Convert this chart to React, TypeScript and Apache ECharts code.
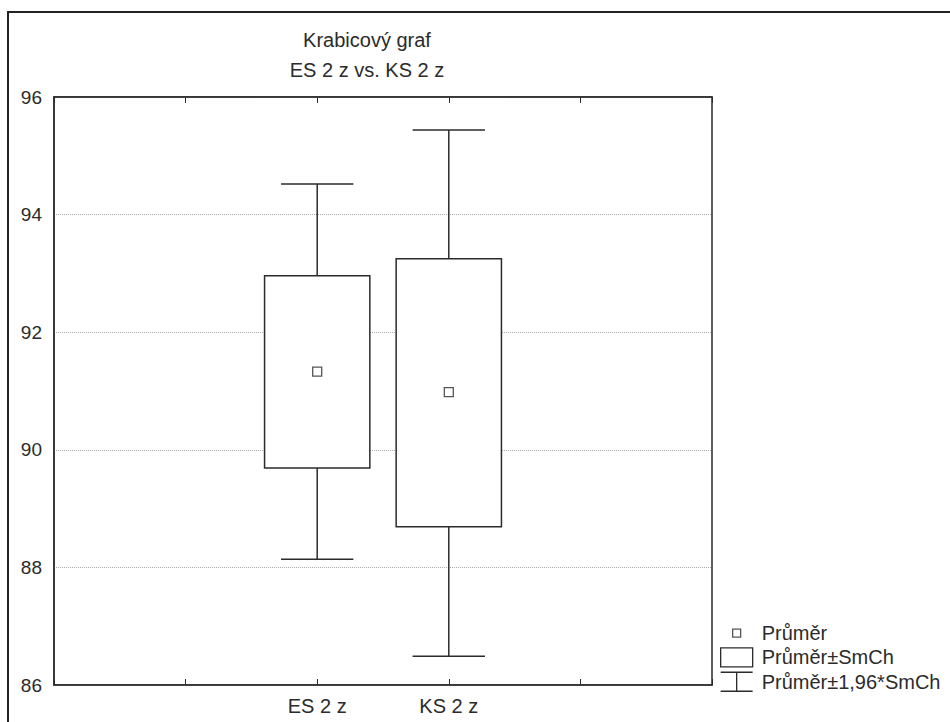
import React, { useEffect, useRef } from "react";
import * as echarts from "echarts";

// Data
const categories = ["ES 2 z", "KS 2 z"];
const slotOffset = 2; // categories sit at slots 2 and 3 of a 0..5 axis
const means = [91.33, 90.98];
const seLow = [89.69, 88.69];
const seHigh = [92.96, 93.25];
const ciLow = [88.14, 86.49];
const ciHigh = [94.52, 95.44];
const yTicks = { min: 86, max: 96, interval: 2 };
const titleLines = ["Krabicový graf", "ES 2 z vs. KS 2 z"];
const legendNames = ["Průměr", "Průměr±SmCh", "Průměr±1,96*SmCh"];

const FONT = "'Liberation Sans', Arial, sans-serif";
const INK = "#2b2b2b";

export default function App() {
  const ref = useRef<HTMLDivElement>(null);

  useEffect(() => {
    if (!ref.current) return;
    const chart = echarts.init(ref.current, undefined, { renderer: "svg" });

    const whiskerData = categories.map((_, i) => [
      i + slotOffset,
      ciLow[i],
      seLow[i],
      seHigh[i],
      ciHigh[i],
    ]);
    const boxData = categories.map((_, i) => [i + slotOffset, seLow[i], seHigh[i]]);
    const meanData = categories.map((_, i) => [i + slotOffset, means[i]]);

    const option: any = {
      animation: false,
      backgroundColor: "#ffffff",
      textStyle: { fontFamily: FONT, color: INK },
      title: {
        text: titleLines.join("\n"),
        left: 367,
        top: 25,
        padding: 0,
        textAlign: "center",
        textStyle: {
          fontFamily: FONT,
          fontSize: 20,
          fontWeight: "normal",
          color: INK,
          lineHeight: 30,
        },
      },
      graphic: [
        {
          type: "rect",
          shape: { x: 8, y: 12, width: 1000, height: 800 },
          style: { fill: "none", stroke: "#222", lineWidth: 2 },
          silent: true,
          z: -10,
        },
      ],
      grid: {
        left: 54,
        right: 238,
        top: 97,
        bottom: 37,
        show: true,
        borderColor: INK,
        borderWidth: 1.5,
        backgroundColor: "transparent",
      },
      legend: {
        orient: "vertical",
        left: 720,
        top: 623,
        padding: 0,
        itemGap: 4,
        itemWidth: 32,
        itemHeight: 19,
        selectedMode: false,
        textStyle: {
          fontFamily: FONT,
          fontSize: 20,
          color: INK,
          padding: [0, 0, 0, 4],
        },
        data: [
          {
            name: legendNames[0],
            icon: "path://M0,0 M32,19 M12,5.5h8v8h-8z",
            itemStyle: { color: "transparent", borderColor: INK, borderWidth: 1.3 },
          },
          {
            name: legendNames[1],
            icon: "path://M0,0H32V19H0Z",
            itemStyle: { color: "transparent", borderColor: INK, borderWidth: 1.3 },
          },
          {
            name: legendNames[2],
            icon: "path://M0,0H32 M16,0V19 M0,19H32",
            itemStyle: { color: "transparent", borderColor: INK, borderWidth: 1.3 },
          },
        ],
      },
      xAxis: [
        {
          type: "value",
          min: 0,
          max: 5,
          interval: 1,
          position: "bottom",
          axisLine: { show: true, onZero: false, lineStyle: { color: INK, width: 1.5 } },
          axisTick: { show: true, inside: true, length: 6, lineStyle: { color: INK } },
          splitLine: { show: false },
          axisLabel: {
            fontFamily: FONT,
            fontSize: 20,
            color: INK,
            margin: 11,
            formatter: (v: number) => categories[v - slotOffset] ?? "",
          },
        },
        {
          type: "value",
          min: 0,
          max: 5,
          interval: 1,
          position: "top",
          axisLine: { show: true, onZero: false, lineStyle: { color: INK, width: 1.5 } },
          axisTick: { show: true, inside: true, length: 6, lineStyle: { color: INK } },
          splitLine: { show: false },
          axisLabel: { show: false },
        },
      ],
      yAxis: {
        type: "value",
        min: yTicks.min,
        max: yTicks.max,
        interval: yTicks.interval,
        axisLine: { show: true, lineStyle: { color: INK, width: 1.5 } },
        axisTick: { show: false },
        axisLabel: { fontFamily: FONT, fontSize: 19, color: INK, margin: 12 },
        splitLine: {
          show: true,
          lineStyle: { type: "dotted", color: "#a8a8a8", width: 1 },
        },
      },
      series: [
        {
          name: legendNames[2],
          type: "custom",
          xAxisIndex: 0,
          itemStyle: { color: INK },
          data: whiskerData,
          encode: { x: 0, y: [1, 2, 3, 4] },
          renderItem: (params: any, api: any) => {
            const x = api.value(0);
            const pLo = api.coord([x, api.value(1)]);
            const pBoxLo = api.coord([x, api.value(2)]);
            const pBoxHi = api.coord([x, api.value(3)]);
            const pHi = api.coord([x, api.value(4)]);
            const capHalf = api.size([0.55, 0])[0] / 2;
            const style = { stroke: INK, lineWidth: 1.5, fill: "none" };
            return {
              type: "group",
              children: [
                { type: "line", shape: { x1: pHi[0], y1: pHi[1], x2: pBoxHi[0], y2: pBoxHi[1] }, style },
                { type: "line", shape: { x1: pLo[0], y1: pLo[1], x2: pBoxLo[0], y2: pBoxLo[1] }, style },
                { type: "line", shape: { x1: pHi[0] - capHalf, y1: pHi[1], x2: pHi[0] + capHalf, y2: pHi[1] }, style },
                { type: "line", shape: { x1: pLo[0] - capHalf, y1: pLo[1], x2: pLo[0] + capHalf, y2: pLo[1] }, style },
              ],
            };
          },
        },
        {
          name: legendNames[1],
          type: "custom",
          xAxisIndex: 0,
          itemStyle: { color: INK },
          data: boxData,
          encode: { x: 0, y: [1, 2] },
          renderItem: (params: any, api: any) => {
            const x = api.value(0);
            const pLo = api.coord([x, api.value(1)]);
            const pHi = api.coord([x, api.value(2)]);
            const w = api.size([0.8, 0])[0];
            return {
              type: "rect",
              shape: { x: pHi[0] - w / 2, y: pHi[1], width: w, height: pLo[1] - pHi[1] },
              style: { fill: "#ffffff", stroke: INK, lineWidth: 1.5 },
            };
          },
        },
        {
          name: legendNames[0],
          type: "scatter",
          xAxisIndex: 0,
          symbol: "rect",
          symbolSize: 9,
          z: 5,
          itemStyle: { color: "#ffffff", borderColor: INK, borderWidth: 1.3 },
          data: meanData,
        },
      ],
    };

    chart.setOption(option);
    return () => chart.dispose();
  }, []);

  return (
    <div
      ref={ref}
      style={{ position: "fixed", left: 0, top: 0, width: 950, height: 722 }}
    />
  );
}
